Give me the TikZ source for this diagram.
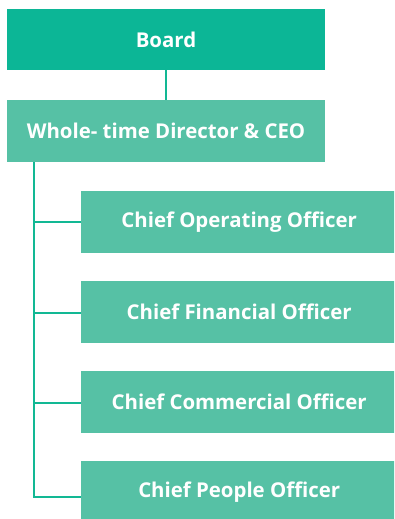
\documentclass[tikz,border=0pt]{standalone}
\usepackage{fontspec}
\setmainfont{Open Sans}
\definecolor{boardc}{HTML}{0CB696}
\definecolor{boxc}{HTML}{56C1A5}
\definecolor{linec}{HTML}{12B894}
\begin{document}
\begin{tikzpicture}[x=1pt,y=-1pt,
  txt/.style={font=\bfseries\fontsize{20.4}{24}\selectfont, text=white},
  topbox/.style={txt, fill=boardc, inner sep=0pt, minimum width=318pt, minimum height=61pt},
  ceobox/.style={txt, fill=boxc, inner sep=0pt, minimum width=318pt, minimum height=62pt},
  offbox/.style={txt, fill=boxc, inner sep=0pt, minimum width=318pt, minimum height=62pt},
  conn/.style={draw=linec, line width=2pt}]
\useasboundingbox (0,0) rectangle (394,519);
\begin{scope}
\clip (0,0) rectangle (394,519);
\node[topbox] (board) at (166,39.5) {Board};
\node[ceobox] (ceo) at (166,131) {Whole- time Director \& CEO};
\node[offbox, anchor=west] (coo) at (81,222) {\hspace*{-2pt}Chief Operating Officer};
\node[offbox, anchor=west] (cfo) at (81,312) {\hspace*{-2pt}Chief Financial Officer};
\node[offbox, anchor=west] (cco) at (81,402) {\hspace*{-2pt}Chief Commercial Officer};
\node[offbox, anchor=west] (cpo) at (81,492) {\hspace*{-2pt}Chief People Officer};
\end{scope}
\coordinate (ceob) at ([xshift=-132pt]ceo.south);
\coordinate (cool) at (coo.west);
\coordinate (cfol) at ([yshift=-1pt]cfo.west);
\coordinate (ccol) at ([yshift=-1pt]cco.west);
\coordinate (cpol) at ([yshift=-5pt]cpo.west);
\draw[conn] (board.south) -- (ceo.north);
\draw[conn] (ceob) |- (cpol);
\draw[conn] (ceob |- cool) -- (cool);
\draw[conn] (ceob |- cfol) -- (cfol);
\draw[conn] (ceob |- ccol) -- (ccol);
\end{tikzpicture}
\end{document}
